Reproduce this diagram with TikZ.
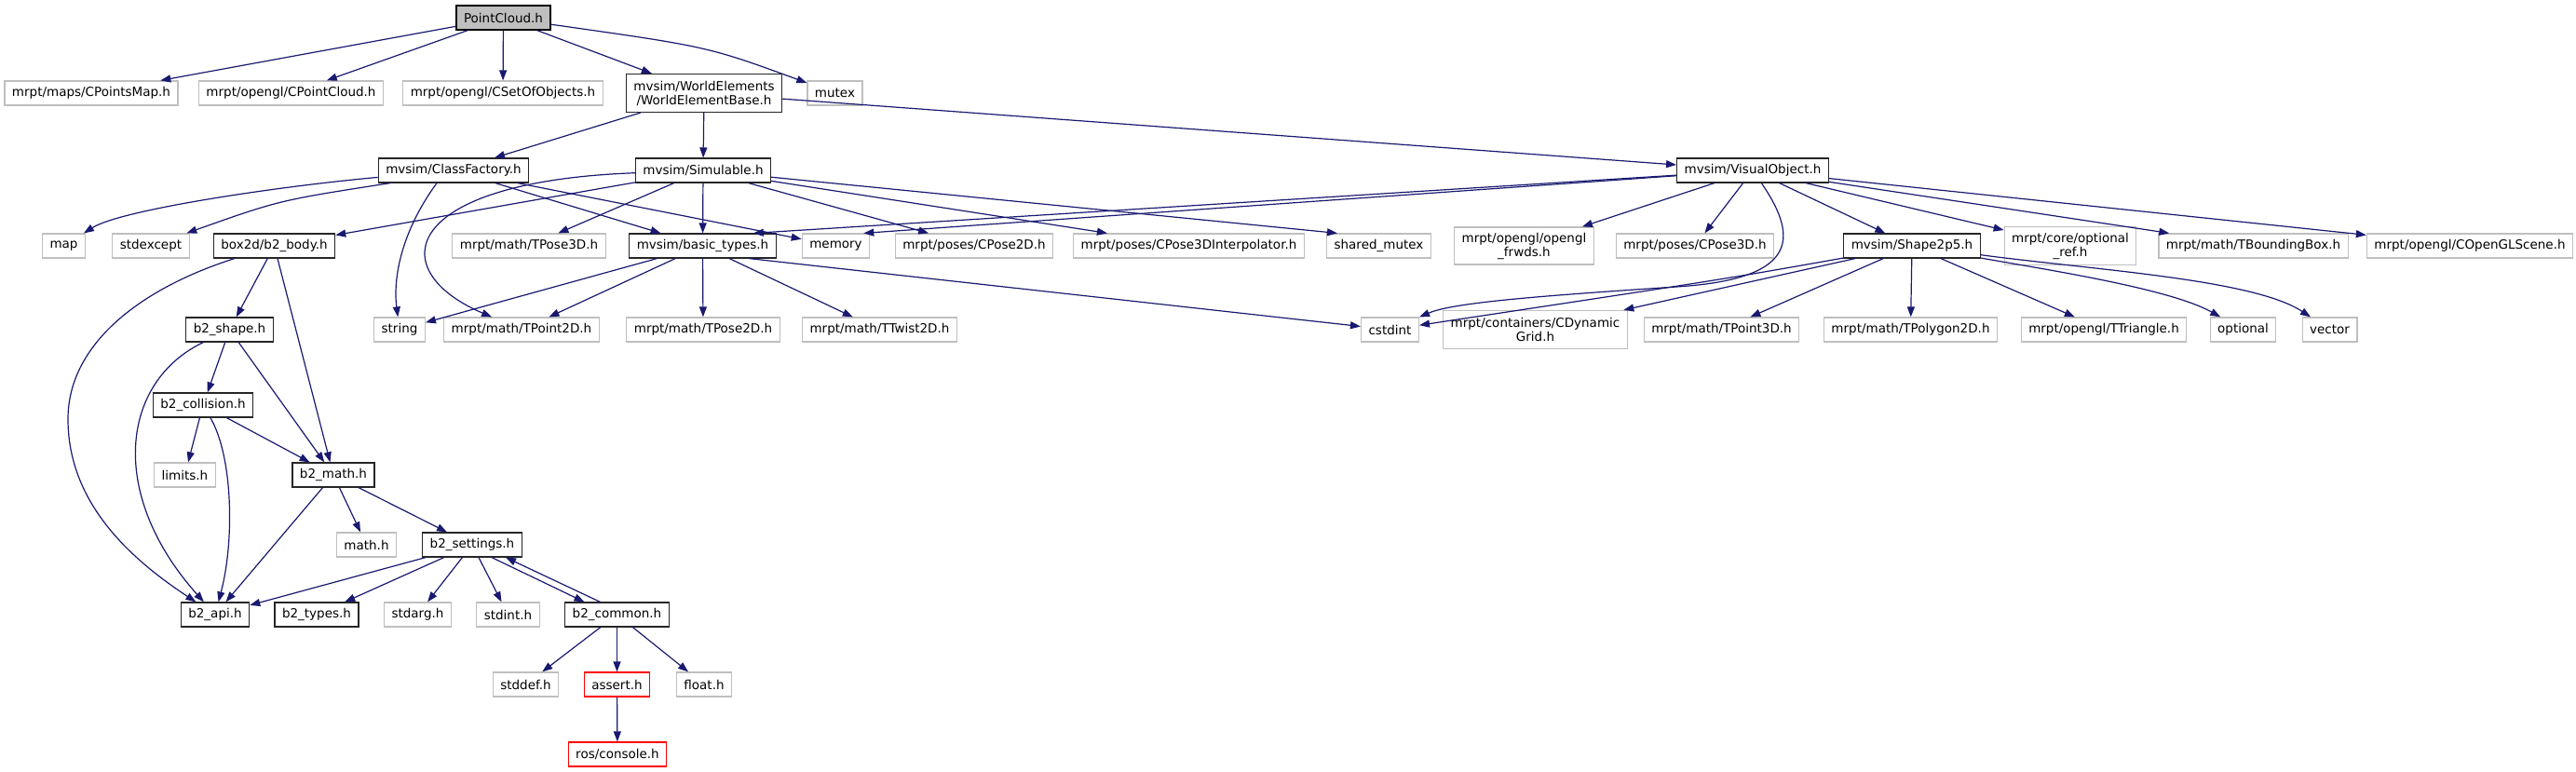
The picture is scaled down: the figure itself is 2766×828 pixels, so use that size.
\documentclass[tikz,border=0pt]{standalone}
\usepackage{fontspec}
\setmainfont{DejaVu Sans}
\usetikzlibrary{arrows.meta}
\definecolor{edgeblue}{HTML}{191970}
\definecolor{extgray}{HTML}{BFBFBF}
\begin{document}
\begin{tikzpicture}[x=1pt,y=-1pt]
\tikzstyle{box} = [draw,rectangle,fill=white,line width=1.2pt,inner xsep=8pt,inner ysep=0pt,minimum height=26pt,align=center,font=\fontsize{13.5}{15}\selectfont]
\tikzstyle{doc} = [box,draw=black!85]
\tikzstyle{ext} = [box,draw=extgray]
\tikzstyle{trunc} = [box,draw=red]
\tikzstyle{root} = [box,draw=black,fill=extgray]
\tikzstyle{dep} = [draw=edgeblue,line width=1.2pt,-{Triangle[length=11pt,width=8pt]}]

\useasboundingbox (0,0) rectangle (2766,828);

% top
\node[root] (pc) at (540.5,19) {PointCloud.h};
\node[ext] (cpm) at (98,100) {mrpt/maps/CPointsMap.h};
\node[ext] (cpcl) at (312.5,100) {mrpt/opengl/CPointCloud.h};
\node[ext] (csoo) at (540,100) {mrpt/opengl/CSetOfObjects.h};
\node[doc,minimum height=41pt] (web) at (756,100) {mvsim/WorldElements\\/WorldElementBase.h};
\node[ext] (mutex) at (896.5,100) {mutex};

\node[doc] (cf) at (487,183) {mvsim/ClassFactory.h};
\node[doc] (sim) at (755,183) {mvsim/Simulable.h};
\node[doc] (vo) at (1882,183) {mvsim/VisualObject.h};

\node[ext] (map) at (68.5,264) {map};
\node[ext] (stdex) at (162,264) {stdexcept};
\node[doc] (body) at (294.5,264) {box2d/b2\_body.h};
\node[ext] (tp3d) at (568,264) {mrpt/math/TPose3D.h};
\node[doc] (bt) at (754.5,264) {mvsim/basic\_types.h};
\node[ext] (mem) at (897.5,264) {memory};
\node[ext] (cp2d) at (1046,264) {mrpt/poses/CPose2D.h};
\node[ext] (cp3di) at (1276.5,264) {mrpt/poses/CPose3DInterpolator.h};
\node[ext] (shmx) at (1480.5,264) {shared\_mutex};
\node[ext,minimum height=40pt] (frwds) at (1636.5,264) {mrpt/opengl/opengl\\\_frwds.h};
\node[ext] (cp3d) at (1820,264) {mrpt/poses/CPose3D.h};
\node[doc] (s2p5) at (2053,264) {mvsim/Shape2p5.h};
\node[ext,minimum height=41pt] (optref) at (2223,264) {mrpt/core/optional\\\_ref.h};
\node[ext] (tbb) at (2419.5,264) {mrpt/math/TBoundingBox.h};
\node[ext] (glscene) at (2652,264) {mrpt/opengl/COpenGLScene.h};

\node[doc] (shape) at (246.5,354) {b2\_shape.h};
\node[ext] (string) at (429,354) {string};
\node[ext] (tp2d) at (560,354) {mrpt/math/TPoint2D.h};
\node[ext] (tpose2d) at (755,354) {mrpt/math/TPose2D.h};
\node[ext] (ttw) at (944.5,354) {mrpt/math/TTwist2D.h};
\node[ext] (cstd) at (1492.5,354) {cstdint};
\node[ext,minimum height=41pt] (cdg) at (1648.5,354) {mrpt/containers/CDynamic\\Grid.h};
\node[ext] (tpt3d) at (1848.5,354) {mrpt/math/TPoint3D.h};
\node[ext] (tpoly) at (2051.5,354) {mrpt/math/TPolygon2D.h};
\node[ext] (ttri) at (2259,354) {mrpt/opengl/TTriangle.h};
\node[ext] (opt) at (2408.5,354) {optional};
\node[ext] (vec) at (2501.5,354) {vector};

% box2d chain
\node[doc] (coll) at (218,435) {b2\_collision.h};
\node[ext] (limits) at (198.5,510) {limits.h};
\node[doc] (math) at (358,510) {b2\_math.h};
\node[ext] (mathh) at (393.5,585) {math.h};
\node[doc] (sett) at (507,585) {b2\_settings.h};
\node[doc] (api) at (231,660) {b2\_api.h};
\node[doc] (types) at (340,660) {b2\_types.h};
\node[ext] (stdarg) at (448.5,660) {stdarg.h};
\node[ext] (stdint) at (545.5,660) {stdint.h};
\node[doc] (common) at (662.5,660) {b2\_common.h};
\node[ext] (stddef) at (564.5,735) {stddef.h};
\node[trunc] (assert) at (662.5,735) {assert.h};
\node[ext] (float) at (756,735) {float.h};
\node[trunc] (ros) at (663,810) {ros/console.h};

\foreach \a/\b in {pc/cpm, pc/cpcl, pc/csoo, pc/web, web/cf, web/sim, web/vo,
  cf/bt, cf/mem, sim/body, sim/tp3d, sim/bt, sim/cp2d, sim/cp3di,
  vo/frwds, vo/cp3d, vo/s2p5, vo/optref, vo/tbb, vo/glscene,
  bt/string, bt/tp2d, bt/tpose2d, bt/ttw,
  s2p5/cdg, s2p5/tpt3d, s2p5/tpoly, s2p5/ttri,
  body/shape, body/math, shape/coll, shape/math, coll/limits, coll/math,
  math/mathh, math/sett, math/api, sett/api, sett/types, sett/stdarg, sett/stdint,
  common/stddef, common/assert, common/float, assert/ros}
  \draw[dep] (\a) -- (\b);

\draw[dep] (pc) .. controls (760,50) .. (mutex);
\draw[dep] (cf) .. controls (300,200) and (130,225) .. (map);
\draw[dep] ([xshift=-68pt]cf.south) .. controls (300,215) .. (stdex);
\draw[dep] ([xshift=-18pt]cf.south) .. controls (430,250) and (422,300) .. (string);
\draw[dep] (sim) .. controls (430,195) and (410,290) .. (tp2d);
\draw[dep] (sim) -- ([xshift=12pt]shmx.north west);
\draw[dep] (vo) -- ([xshift=-25pt]bt.north east);
\draw[dep] (vo) -- ([xshift=-7pt]mem.north east);
\draw[dep] (vo) .. controls (1935,260) and (1925,300) .. (1800,308) .. controls (1650,318) and (1560,325) .. (cstd);
\draw[dep] ([xshift=50pt]bt.south) -- (cstd);
\draw[dep] (s2p5) .. controls (1850,300) .. (cstd);
\draw[dep] (s2p5) .. controls (2200,290) and (2330,310) .. (opt);
\draw[dep] (s2p5) .. controls (2250,290) and (2420,300) .. (vec);
\draw[dep] (body) .. controls (150,310) and (73,370) .. (73,450) .. controls (73,540) and (140,600) .. (api);
\draw[dep] (shape) .. controls (130,410) and (115,530) .. (api);
\draw[dep] (coll) .. controls (250,490) and (252,580) .. (api);
\draw[dep] ([xshift=21pt]sett.south) -- ([xshift=-35pt]common.north);
\draw[dep] ([xshift=-18pt]common.north) -- ([xshift=36pt]sett.south);

\end{tikzpicture}
\end{document}
